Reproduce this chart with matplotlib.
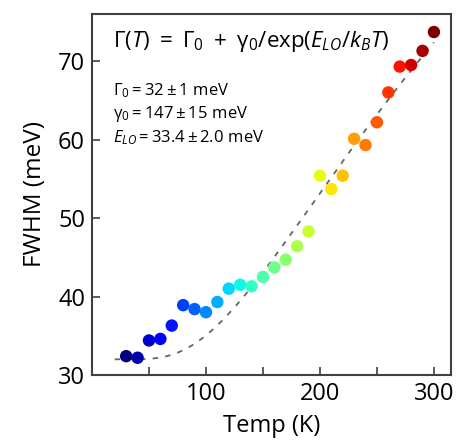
import numpy as np
import matplotlib
matplotlib.use("Agg")
import matplotlib.pyplot as plt

plt.rcParams['font.family'] = ['Open Sans', 'DejaVu Sans']
plt.rcParams['mathtext.fontset'] = 'custom'
plt.rcParams['mathtext.rm'] = 'Open Sans'
plt.rcParams['mathtext.it'] = 'Open Sans:italic'
plt.rcParams['mathtext.bf'] = 'Open Sans:bold'

# temperature (K) and measured FWHM (meV)
temp = [30, 40, 50, 60, 70, 80, 90, 100, 110, 120, 130, 140, 150, 160,
        170, 180, 190, 200, 210, 220, 230, 240, 250, 260, 270, 280, 290, 300]
fwhm = [32.4, 32.2, 34.4, 34.6, 36.3, 38.9, 38.4, 38.0, 39.3, 41.0, 41.5, 41.3,
        42.5, 43.7, 44.7, 46.4, 48.3, 55.4, 53.7, 55.4, 60.1, 59.3, 62.2, 66.0,
        69.3, 69.5, 71.3, 73.7]

# fit parameters
gamma0_fit = 32.0
gamma_lo = 147.0
e_lo = 33.4
kb = 0.08617  # meV/K

t_fit = np.linspace(20, 300, 200)
fit = gamma0_fit + gamma_lo / np.exp(e_lo / (kb * t_fit))

fig = plt.figure(figsize=(4.59, 4.44), dpi=100)
ax = fig.add_axes([0.2004, 0.1554, 0.7822, 0.8131])

ax.plot(t_fit, fit, ls=(0, (3, 4)), color='0.4', lw=1.3, zorder=1)
colors = plt.cm.jet(np.linspace(0, 1, len(temp)))
ax.scatter(temp, fwhm, s=80, c=colors, edgecolors='none', zorder=2)

ax.set_xlim(0, 315)
ax.set_ylim(30, 76)
ax.set_xticks([50, 100, 150, 200, 250, 300])
ax.set_xticklabels(['', '100', '', '200', '', '300'])
ax.set_yticks([30, 40, 50, 60, 70])
ax.tick_params(direction='in', length=6, width=1.2, labelsize=17, pad=5,
               color='0.25')
for sp in ax.spines.values():
    sp.set_linewidth(1.5)
    sp.set_color('0.25')

ax.set_xlabel('Temp (K)', fontsize=17, labelpad=6)
ax.set_ylabel('FWHM (meV)', fontsize=17.5, labelpad=8)

ax.text(0.058, 0.925,
        r'$\mathrm{\Gamma(}T\mathrm{)\ =\ \Gamma_0\ +\ \gamma_0/exp(}E_{LO}/k_BT\mathrm{)}$',
        transform=ax.transAxes, fontsize=16, va='center', ha='left')
ax.text(0.058, 0.789, r'$\mathrm{\Gamma_0 = 32 \pm 1\ meV}$',
        transform=ax.transAxes, fontsize=12, va='center', ha='left')
ax.text(0.058, 0.724, r'$\mathrm{\gamma_0 = 147 \pm 15\ meV}$',
        transform=ax.transAxes, fontsize=12, va='center', ha='left')
ax.text(0.058, 0.657, r'$E_{LO}\mathrm{ = 33.4 \pm 2.0\ meV}$',
        transform=ax.transAxes, fontsize=12, va='center', ha='left')

fig.savefig('out.png', dpi=100)
